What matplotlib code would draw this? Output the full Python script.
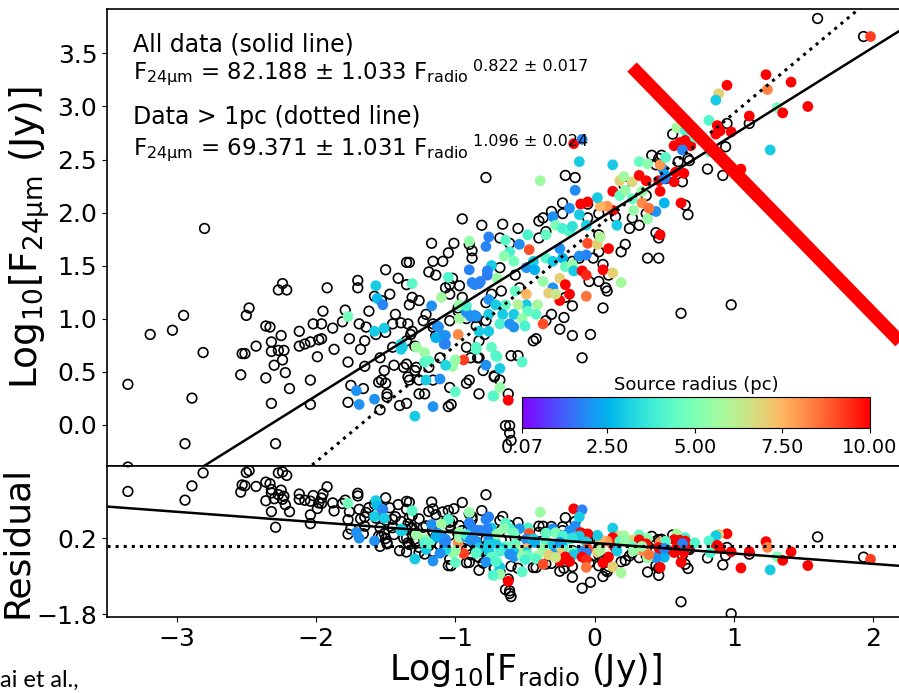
import numpy as np
import matplotlib
matplotlib.use("Agg")
import matplotlib.pyplot as plt
from matplotlib.lines import Line2D

# log10 F_radio, log10 F_24um for sources without a radius (open circles)
open_pts = [
    (-0.78, 2.33), (-2.80, 1.85), (-0.95, 1.94), (-0.81, 1.88), (-1.17, 1.71), (-1.01, 1.71),
    (-1.05, 1.62), (-0.88, 1.64), (-0.88, 1.57), (-1.35, 1.53), (-1.33, 1.53), (-1.50, 1.46),
    (-1.19, 1.44), (-1.14, 1.41), (-1.02, 1.38), (-1.41, 1.38), (-1.70, 1.36), (-1.70, 1.29),
    (-2.24, 1.33), (-2.27, 1.27), (-2.21, 1.27), (-1.92, 1.29), (-1.35, 1.32), (-0.97, 1.31),
    (-1.07, 1.29), (-1.04, 1.23), (-1.47, 1.23), (-2.48, 1.10), (-2.50, 1.03), (-2.95, 1.03),
    (-3.03, 0.89), (-3.19, 0.85), (-2.81, 0.68), (-3.35, 0.38), (-2.89, 0.25), (-2.94, -0.18),
    (-2.29, -0.18), (-2.36, 0.93), (-2.33, 0.92), (-2.32, 0.78), (-2.32, 0.69), (-2.25, 0.84),
    (-2.27, 0.70), (-2.23, 0.70), (-2.24, 0.61), (-2.30, 0.56), (-2.43, 0.74), (-2.53, 0.67),
    (-2.51, 0.67), (-2.54, 0.47), (-2.36, 0.44), (-2.22, 0.49), (-2.19, 0.34), (-2.32, 0.20),
    (-2.04, 0.19), (-2.04, 0.42), (-2.12, 0.88), (-2.12, 0.74), (-2.08, 0.76), (-2.04, 0.78),
    (-1.98, 0.80), (-1.96, 0.81), (-2.02, 0.95), (-1.96, 0.95), (-1.95, 1.07), (-1.88, 0.91),
    (-1.87, 0.71), (-1.99, 0.64), (-1.81, 0.97), (-1.79, 1.08), (-1.76, 0.81), (-1.77, 0.59),
    (-1.75, 0.37), (-1.77, 0.21), (-1.68, 0.71), (-1.65, 0.79), (-1.69, 0.95), (-1.64, 0.92),
    (-1.65, 0.55), (-1.66, 0.34), (-1.62, 1.07), (-1.58, 1.21), (-1.53, 1.17), (-1.57, 0.85),
    (-1.50, 0.87), (-1.45, 0.73), (-1.45, 0.95), (-1.54, 0.63), (-1.51, 0.51), (-1.53, 0.42),
    (-1.50, 0.39), (-1.55, 0.40), (-1.49, 0.29), (-1.49, 0.26), (-1.54, 0.14), (-1.40, 0.18),
    (-1.44, 0.56), (-1.43, 1.04), (-1.39, 0.96), (-1.34, 0.95), (-1.31, 0.88), (-1.35, 0.79),
    (-1.29, 0.74), (-1.32, 0.85), (-1.37, 0.54), (-1.29, 0.51), (-1.33, 0.42), (-1.26, 0.42),
    (-1.26, 0.29), (-1.22, 0.29), (-1.19, 0.54), (-1.16, 0.42), (-1.11, 0.63), (-1.26, 1.17),
    (-1.21, 1.04), (-1.16, 0.95), (-1.14, 0.84), (-1.05, 0.17), (-1.03, 0.19), (-1.04, 0.35),
    (-0.92, 0.39), (-0.90, 0.42), (-1.04, 0.98), (-0.98, 1.07), (-0.92, 1.00), (-0.85, 0.93),
    (-0.83, 0.79), (-0.84, 0.63), (-0.80, 0.51), (-0.72, 0.45),
    (-0.21, 2.35), (-0.14, 2.33), (-0.66, 1.89), (-0.55, 1.85), (-0.68, 1.76), (-0.61, 1.71),
    (-0.37, 1.95), (-0.40, 1.92), (-0.31, 2.01), (-0.23, 2.09), (-0.05, 2.08), (-0.23, 1.99),
    (-0.05, 1.95), (0.03, 1.99), (0.15, 1.96), (0.27, 1.95), (0.41, 2.54), (0.46, 2.51),
    (0.48, 2.54), (0.60, 2.48), (0.67, 2.51), (0.44, 2.45), (0.63, 2.29), (0.67, 1.98),
    (0.44, 1.81), (0.46, 1.76), (0.38, 1.57), (0.46, 1.57), (0.19, 1.63), (0.62, 1.05),
    (0.06, 1.10), (-0.09, 0.63), (-0.01, 1.57), (0.03, 1.63), (0.06, 1.51), (-0.04, 1.35),
    (0.08, 1.29), (0.10, 1.41), (0.03, 1.79), (-0.16, 1.54), (-0.11, 1.57), (-0.25, 0.90),
    (-0.16, 1.12), (-0.21, 1.20), (-0.22, 1.01), (-0.35, 0.98), (-0.31, 1.04), (-0.44, 0.79),
    (-0.42, 0.81), (-0.60, 0.65), (-0.55, 0.65), (-0.57, 1.41), (-0.54, 1.29), (-0.68, 1.48),
    (-0.67, 1.26), (-0.74, 1.23), (-0.78, 1.15), (-0.85, 1.01), (-0.78, 0.98), (-0.79, 0.85),
    (-0.92, 0.73), (-0.89, 0.63), (-0.83, 0.63), (-0.83, 0.29), (-0.68, 0.42), (-0.72, 0.46),
    (-0.62, 0.29), (-1.35, 0.20), (-0.64, -0.01), (-0.61, -0.01), (-0.61, -0.08), (-0.60, -0.15),
    (0.03, 1.35), (0.09, 1.26), (-0.16, 0.84), (-0.03, 0.85), (-0.35, 1.82), (-0.40, 1.76),
    (-0.90, 1.70), (-1.16, 1.54), (-1.09, 1.54), (-1.04, 1.32), (-0.95, 1.20), (-0.98, 1.10),
    (-1.31, 1.20), (-1.33, 1.13), (-1.23, 0.98), (-1.16, 0.92), (-1.35, 0.57), (-1.28, 0.54),
    (-1.34, 0.45), (0.51, 2.32), (0.65, 2.07), (0.37, 1.99), (0.25, 1.85), (0.32, 1.88),
    (0.22, 1.70), (1.60, 3.83), (1.93, 3.66), (1.11, 2.84), (0.95, 2.84), (0.56, 2.74),
    (0.94, 2.62), (0.68, 2.49), (0.81, 2.41), (0.92, 2.35), (0.21, 2.26), (0.37, 2.16),
    (0.98, 1.13), (-3.35, -0.40),
]

# log10 F_radio, log10 F_24um, source radius (pc)
radius_pts = [
    (-0.90, 1.73, 5.5), (-0.76, 1.77, 1.8), (-0.78, 1.68, 1.8), (-0.90, 1.46, 1.8), (-0.88, 1.34, 1.8),
    (-0.83, 1.33, 1.8), (-0.77, 1.41, 1.6), (-0.74, 1.50, 3.0), (-1.05, 1.39, 4.2), (-1.31, 1.33, 4.3),
    (-1.57, 1.31, 3.0), (-1.56, 1.19, 2.7), (-1.52, 1.13, 1.8), (-1.77, 1.02, 4.8), (-1.58, 0.88, 3.0),
    (-1.51, 0.91, 3.0), (-1.39, 0.76, 3.1), (-1.39, 0.71, 3.1), (-1.28, 0.73, 5.6), (-1.22, 0.68, 5.6),
    (-1.17, 1.12, 2.0), (-1.10, 1.20, 5.7), (-1.13, 0.93, 1.8), (-1.09, 0.84, 1.8), (-1.08, 0.76, 1.8),
    (-0.97, 1.12, 4.0), (-0.98, 0.85, 8.2), (-0.94, 0.61, 9.2), (-0.97, 1.00, 5.7), (-0.92, 1.06, 2.0),
    (-0.86, 1.03, 2.0), (-0.85, 0.71, 4.2), (-0.76, 0.88, 3.0), (-0.74, 0.73, 4.5), (-0.78, 0.56, 2.0),
    (-0.70, 0.64, 4.5), (-1.00, 0.61, 5.5), (-1.02, 0.55, 5.5), (-1.07, 0.56, 3.2), (-1.00, 0.31, 4.4),
    (-1.11, 0.43, 2.0), (-1.22, 0.59, 4.2), (-1.21, 0.42, 3.0), (-1.16, 0.17, 2.0), (-1.29, 0.08, 3.0),
    (-1.58, 0.24, 2.0), (-1.69, 0.19, 2.0), (-1.71, 0.32, 2.0), (-0.72, 0.27, 5.6),
    (-0.39, 2.30, 5.6), (-0.14, 2.21, 1.9), (0.13, 2.45, 3.0), (0.32, 2.48, 4.6), (0.38, 2.46, 5.3),
    (0.18, 2.30, 7.0), (0.27, 2.29, 6.8), (0.21, 2.34, 5.7), (0.32, 2.35, 9.9), (0.37, 2.30, 9.9),
    (0.49, 2.41, 2.0), (0.51, 2.35, 2.5), (0.57, 2.29, 10.0), (0.64, 2.37, 10.0), (0.62, 2.09, 10.0),
    (0.47, 2.20, 10.0), (0.50, 2.09, 2.6), (0.44, 2.01, 2.0), (0.38, 1.94, 5.5), (0.34, 2.09, 8.2),
    (0.39, 2.04, 8.5), (0.27, 2.13, 4.5), (0.28, 2.02, 5.5), (0.13, 2.20, 10.0), (0.13, 2.02, 10.0),
    (0.18, 2.16, 4.5), (0.22, 2.21, 5.5), (0.16, 1.88, 3.0), (0.09, 2.06, 8.0), (0.04, 2.06, 7.5),
    (0.02, 2.14, 3.0), (-0.05, 2.10, 10.0), (-0.10, 2.08, 10.0), (-0.18, 2.04, 2.0), (-0.11, 1.98, 3.0),
    (-0.06, 1.88, 3.1), (-0.30, 1.96, 2.0), (-0.28, 1.88, 5.0), (-0.23, 1.85, 4.0), (-0.18, 1.82, 4.2),
    (-0.16, 1.87, 3.5), (-0.48, 1.79, 4.0), (-0.35, 1.79, 4.5), (-0.05, 1.71, 9.0), (0.02, 1.70, 7.0),
    (0.04, 1.77, 6.0), (0.10, 1.66, 10.0), (-0.11, 1.59, 2.0), (-0.06, 1.60, 1.8), (-0.47, 1.65, 9.0),
    (-0.64, 1.74, 4.3), (-0.54, 1.70, 2.0), (-0.61, 1.63, 4.0), (-0.65, 1.59, 5.3), (-0.58, 1.54, 4.8),
    (-0.49, 1.48, 2.0), (-0.44, 1.54, 3.0), (-0.43, 1.46, 2.5), (-0.35, 1.57, 4.3), (-0.30, 1.54, 3.0),
    (-0.25, 1.66, 2.0), (-0.23, 1.57, 2.5), (-0.21, 1.49, 4.5), (-0.16, 1.51, 5.5), (-0.15, 1.45, 3.0),
    (-0.09, 1.45, 10.0), (-0.06, 1.41, 9.5), (0.06, 1.46, 10.0), (0.13, 1.43, 7.0), (0.19, 1.34, 5.8),
    (-0.25, 1.38, 7.0), (-0.30, 1.29, 2.0), (-0.21, 1.32, 10.0), (-0.25, 1.17, 10.0), (-0.18, 1.23, 10.0),
    (-0.06, 1.21, 8.5), (-0.37, 1.35, 5.5), (-0.33, 1.24, 7.0), (-0.28, 1.23, 6.5), (-0.41, 1.13, 5.8),
    (-0.42, 1.04, 4.3), (-0.37, 0.95, 9.0), (-0.49, 1.23, 7.5), (-0.49, 1.13, 3.0), (-0.48, 1.07, 4.5),
    (-0.57, 1.26, 4.5), (-0.55, 1.13, 6.0), (-0.58, 1.04, 3.0), (-0.64, 1.13, 4.5), (-0.66, 1.04, 3.0),
    (-0.68, 0.95, 4.0), (-0.61, 0.95, 2.0), (-0.58, 0.92, 2.0), (-0.76, 1.18, 2.0), (-0.71, 1.13, 3.0),
    (-0.76, 1.04, 3.0), (-0.82, 1.35, 1.8), (-0.86, 1.32, 1.8), (-0.70, 1.38, 5.5), (-0.77, 1.45, 1.8),
    (-0.97, 1.13, 5.5), (-0.92, 1.12, 4.0), (-0.89, 1.02, 2.0), (-0.85, 1.02, 2.0), (-0.83, 0.88, 3.0),
    (-0.52, 1.00, 5.5), (-0.50, 0.93, 4.0), (-1.12, 0.92, 2.0), (-1.14, 0.82, 2.5), (-1.07, 0.84, 2.0),
    (-1.07, 0.76, 1.8), (-1.38, 0.73, 3.0), (-1.19, 0.60, 4.4), (-0.85, 0.73, 4.3), (-0.68, 0.53, 3.0),
    (-0.71, 0.65, 4.2), (-0.52, 0.59, 4.3), (-0.68, 0.35, 5.5), (-0.73, 0.27, 4.2), (-0.62, 0.23, 10.0),
    (1.98, 3.66, 9.2), (1.23, 3.30, 10.0), (1.41, 3.23, 10.0), (0.95, 3.20, 10.0), (0.89, 3.12, 7.0),
    (0.87, 3.06, 3.0), (1.24, 3.16, 8.3), (1.53, 3.00, 10.0), (1.31, 2.99, 5.0), (1.35, 2.94, 10.0),
    (1.11, 2.91, 10.0), (0.82, 2.87, 4.2), (0.88, 2.82, 10.0), (0.90, 2.77, 10.0), (0.87, 2.74, 10.0),
    (0.98, 2.76, 10.0), (0.59, 2.80, 5.8), (0.65, 2.77, 4.0), (0.61, 2.66, 10.0), (0.65, 2.68, 10.0),
    (0.69, 2.63, 10.0), (0.57, 2.63, 10.0), (0.63, 2.59, 1.8), (0.72, 2.71, 4.2), (0.83, 2.57, 4.0),
    (1.26, 2.59, 3.0), (1.05, 2.41, 10.0), (0.47, 2.45, 8.0), (0.51, 2.52, 4.3), (0.58, 2.38, 10.0),
    (0.46, 2.30, 10.0), (0.50, 2.32, 1.8), (0.34, 2.20, 5.5), (0.47, 1.79, 10.0), (-0.15, 2.65, 10.0),
    (-0.09, 2.69, 1.8), (-0.11, 2.48, 3.0),
]

# power-law fits F24 = A * Fradio^b
fit_all = (82.188, 0.822)
fit_big = (69.371, 1.096)

cb_ticks = [0.07, 2.5, 5.0, 7.5, 10.0]

ox, oy = np.array(open_pts).T
cx, cy, cr = np.array(radius_pts).T


def fit_line(x, fit):
    return np.log10(fit[0]) + fit[1] * x


fig = plt.figure(figsize=(8.99, 6.93), dpi=100)
ax1 = fig.add_axes([0.1190, 0.3276, 0.9299, 0.6595])
ax2 = fig.add_axes([0.1190, 0.1097, 0.9299, 0.2179], sharex=ax1)

# main panel
ax1.scatter(ox, oy, s=48, facecolors='none', edgecolors='k', linewidths=1.2)
sc = ax1.scatter(cx, cy, c=cr, s=60, cmap='rainbow', vmin=0.07, vmax=10, edgecolors='none')
xx = np.linspace(-3.5, 2.5, 50)
ax1.plot(xx, fit_line(xx, fit_all), 'k-', lw=1.8)
ax1.plot(xx, fit_line(xx, fit_big), 'k:', lw=2.2)
ax1.set_xlim(-3.5, 2.5)
ax1.set_ylim(-0.39, 3.92)
ax1.set_yticks(np.arange(0, 3.6, 0.5))
ax1.tick_params(axis='x', bottom=False, labelbottom=False)
ax1.tick_params(axis='y', labelsize=18)
ax1.set_ylabel(r'Log$_{10}$[F$_{\mathrm{24\mu m}}$ (Jy)]', fontsize=27, labelpad=4)

ax1.text(0.031, 0.923, 'All data (solid line)', transform=ax1.transAxes, fontsize=17, va='center')
ax1.text(0.031, 0.856, r'F$_{\mathrm{24\mu m}}$ = 82.188 ± 1.033 F$_{\mathrm{radio}}$',
         transform=ax1.transAxes, fontsize=16.5, va='center')
ax1.text(0.438, 0.873, '0.822 ± 0.017', transform=ax1.transAxes, fontsize=11.5, va='center')
ax1.text(0.031, 0.764, 'Data > 1pc (dotted line)', transform=ax1.transAxes, fontsize=17, va='center')
ax1.text(0.031, 0.691, r'F$_{\mathrm{24\mu m}}$ = 69.371 ± 1.031 F$_{\mathrm{radio}}$',
         transform=ax1.transAxes, fontsize=16.5, va='center')
ax1.text(0.438, 0.709, '1.096 ± 0.024', transform=ax1.transAxes, fontsize=11.5, va='center')

# colour bar inset
cax = fig.add_axes([0.5806, 0.3824, 0.3871, 0.0447])
cb = fig.colorbar(sc, cax=cax, orientation='horizontal', ticks=cb_ticks)
cb.ax.set_xticklabels(['%.2f' % t for t in cb_ticks], fontsize=14)
cb.ax.set_title('Source radius (pc)', fontsize=13, pad=5)

# residual panel (relative to the > 1pc fit)
ax2.scatter(ox, oy - fit_line(ox, fit_big), s=48, facecolors='none', edgecolors='k', linewidths=1.2)
ax2.scatter(cx, cy - fit_line(cx, fit_big), c=cr, s=60, cmap='rainbow', vmin=0.07, vmax=10,
            edgecolors='none')
ax2.plot(xx, fit_line(xx, fit_all) - fit_line(xx, fit_big), 'k-', lw=1.8)
ax2.axhline(0, color='k', ls=':', lw=2.2)
ax2.set_ylim(-1.87, 2.1)
ax2.set_yticks([-1.8, 0.2])
ax2.set_xticks(np.arange(-3, 3, 1))
ax2.tick_params(labelsize=18)
ax2.set_ylabel('Residual', fontsize=26, labelpad=2)
ax2.set_xlabel(r'Log$_{10}$[F$_{\mathrm{radio}}$ (Jy)]', fontsize=25, labelpad=0)

for ax in (ax1, ax2):
    for sp in ax.spines.values():
        sp.set_linewidth(1.2)

# slide annotations over the figure
fig.add_artist(Line2D([632 / 899, 910 / 899], [1 - 67 / 693, 1 - 352 / 693],
                      color='#ff0000', lw=9.5, solid_capstyle='butt'))
fig.text(0.0, 0.018, 'ai et al.,', fontsize=17, family='Lato', va='center')

fig.savefig('out.png', dpi=100)
plt.close()
